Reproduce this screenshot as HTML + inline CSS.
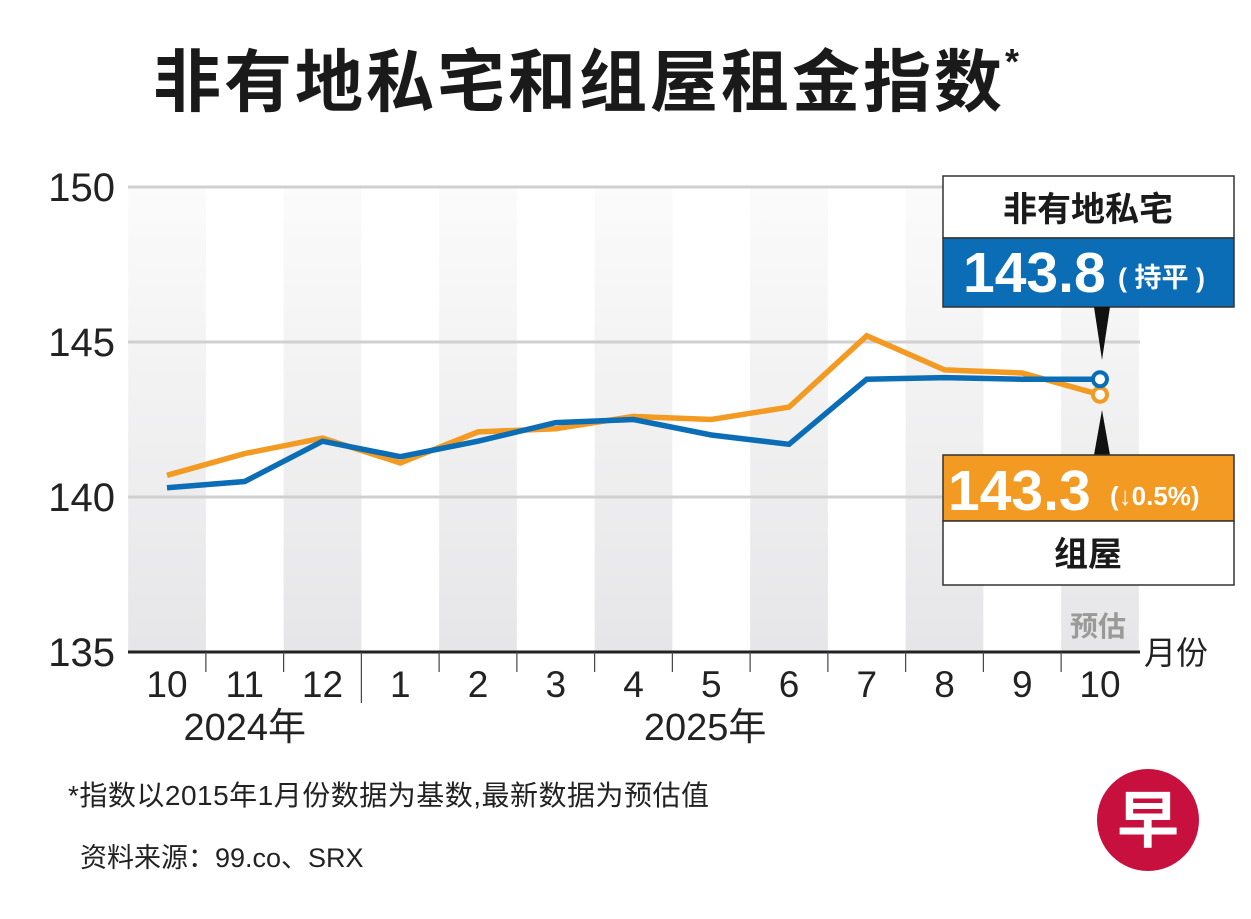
<!DOCTYPE html>
<html><head><meta charset="utf-8"><style>
html,body{margin:0;padding:0;background:#fff;width:1251px;height:919px;overflow:hidden}
svg{display:block}
text{font-family:"Liberation Sans","Noto Sans CJK SC",sans-serif}
.n{font-family:"Liberation Sans Narrow","Liberation Sans","Noto Sans CJK SC",sans-serif}
</style></head><body>
<svg id="chart" width="1251" height="919" viewBox="0 0 1251 919" xmlns="http://www.w3.org/2000/svg">
<defs>
<linearGradient id="stripe" x1="0" y1="0" x2="0" y2="1"><stop offset="0" stop-color="#fbfbfb"/><stop offset="1" stop-color="#e6e6e8"/></linearGradient>
</defs>
<text x="153" y="106" font-size="68" font-weight="bold" letter-spacing="3" fill="#1a1a1a" font-family="'Noto Sans CJK SC',sans-serif">非有地私宅和组屋租金指数<tspan font-size="36" dy="-32">*</tspan></text>
<g id="stripes"></g>
<g id="grid"></g>
<g id="xaxis"></g>
<g id="yaxis"></g>
<text x="1098" y="636" font-size="28" font-weight="bold" fill="#9a9a9a" text-anchor="middle" font-family="'Noto Sans CJK SC',sans-serif">预估</text>
<text x="1144" y="664" font-size="32" fill="#222" font-family="'Noto Sans CJK SC',sans-serif">月份</text>
<g id="series"></g>
<g>
<rect x="943" y="176" width="291" height="62" fill="#fff" stroke="#333" stroke-width="1.5"/>
<text x="1088" y="221" font-size="34" font-weight="bold" fill="#1a1a1a" text-anchor="middle" font-family="'Noto Sans CJK SC',sans-serif">非有地私宅</text>
<rect x="943" y="238" width="291" height="69" fill="#0a6db5" stroke="#333" stroke-width="1.5"/>
<text x="963" y="292" font-size="57" font-weight="bold" fill="#fff">143.8</text>
<text x="1118" y="287" font-size="27" font-weight="bold" fill="#fff" font-family="'Noto Sans CJK SC',sans-serif">( 持平 )</text>
<polygon points="1094,307 1110,307 1102,360" fill="#111"/>
</g>
<g>
<polygon points="1094,455 1110,455 1102,410" fill="#111"/>
<rect x="943" y="455" width="291" height="66" fill="#f39a22" stroke="#333" stroke-width="1.5"/>
<text x="948" y="510" font-size="57" font-weight="bold" fill="#fff">143.3</text>
<text x="1110" y="505" font-size="26" font-weight="bold" fill="#fff">(↓0.5%)</text>
<rect x="943" y="521" width="291" height="64" fill="#fff" stroke="#333" stroke-width="1.5"/>
<text x="1088" y="566" font-size="34" font-weight="bold" fill="#1a1a1a" text-anchor="middle" font-family="'Noto Sans CJK SC',sans-serif">组屋</text>
</g>
<text x="68" y="805" font-size="28" letter-spacing="0.5" fill="#222" font-family="'Noto Sans CJK SC',sans-serif">*指数以2015年1月份数据为基数,最新数据为预估值</text>
<text x="80" y="867" font-size="27" fill="#222" font-family="'Noto Sans CJK SC',sans-serif">资料来源：99.co、SRX</text>
<g>
<circle cx="1148" cy="820" r="51" fill="#c8103e"/>
<text x="1148" y="842" font-size="62" font-weight="bold" fill="#fff" text-anchor="middle" font-family="'Noto Serif CJK SC',serif">早</text>
</g>
</svg>
<script>
const months = ["10","11","12","1","2","3","4","5","6","7","8","9","10"];
const privateValues = [140.3,140.5,141.8,141.3,141.8,142.4,142.5,142.0,141.7,143.8,143.85,143.8,143.8];
const hdbValues = [140.7,141.4,141.9,141.1,142.1,142.2,142.6,142.5,142.9,145.2,144.1,144.0,143.3];
const yTicks = [135,140,145,150];
const yearLabels = ["2024年","2025年"];
const yearSpans = [[0,2],[3,12]];

const NS="http://www.w3.org/2000/svg";
const x0=167, step=77.75, yBase=652, yUnit=31;
function xs(i){return x0+i*step;}
function ys(v){return yBase-(v-135)*yUnit;}
function mk(tag,attrs,parent){const e=document.createElementNS(NS,tag);for(const k in attrs)e.setAttribute(k,attrs[k]);parent.appendChild(e);return e;}

const stripes=document.getElementById('stripes');
months.forEach((m,i)=>{
  if(i%2===0){
    const r=mk('rect',{x:xs(i)-step/2,y:186,width:step,height:yBase-186,fill:'url(#stripe)'},stripes);
    
    
  }
});
const grid=document.getElementById('grid');
const yaxis=document.getElementById('yaxis');
yTicks.forEach(t=>{
  if(t>135){
    const l=mk('line',{x1:128,x2:1140,y1:ys(t),y2:ys(t),stroke:'#d0d0d0','stroke-width':3},grid);
    
    
  }
  const tx=mk('text',{x:115,y:ys(t)+14,'font-size':40,fill:'#222','text-anchor':'end',class:'n'},yaxis);
  tx.textContent=t;
  
  
});
const xaxis=document.getElementById('xaxis');
mk('line',{x1:128,x2:1140,y1:yBase,y2:yBase,stroke:'#222','stroke-width':3},xaxis);
months.forEach((m,i)=>{
  const tx=mk('text',{x:xs(i),y:697,'font-size':37,fill:'#222','text-anchor':'middle',class:'n'},xaxis);
  tx.textContent=m;
  
  
  if(i<months.length-1){
    const bx=xs(i)+step/2;
    mk('line',{x1:bx,x2:bx,y1:yBase,y2:(i===2?703:672),stroke:'#444','stroke-width':1.2},xaxis);
  }
});
yearLabels.forEach((y,k)=>{
  const cx=(xs(yearSpans[k][0])+xs(yearSpans[k][1]))/2+(k===1?-45:0);
  const tx=mk('text',{x:cx,y:740,'font-size':38,fill:'#222','text-anchor':'middle',class:'n'},xaxis);
  tx.textContent=y;
  
  
});
const series=document.getElementById('series');
function drawLine(vals,color,name){
  const pts=vals.map((v,i)=>xs(i)+','+ys(v)).join(' ');
  const p=mk('polyline',{points:pts,fill:'none',stroke:color,'stroke-width':5.5,'stroke-linejoin':'miter'},series);
  
  
  const n=vals.length-1;
  const c=mk('circle',{cx:xs(n),cy:ys(vals[n]),r:7,fill:'#fff',stroke:color,'stroke-width':4},series);
  
  
}
drawLine(hdbValues,'#f39a22','hdb-line');
drawLine(privateValues,'#0a6db5','private-line');
</script>
</body></html>
